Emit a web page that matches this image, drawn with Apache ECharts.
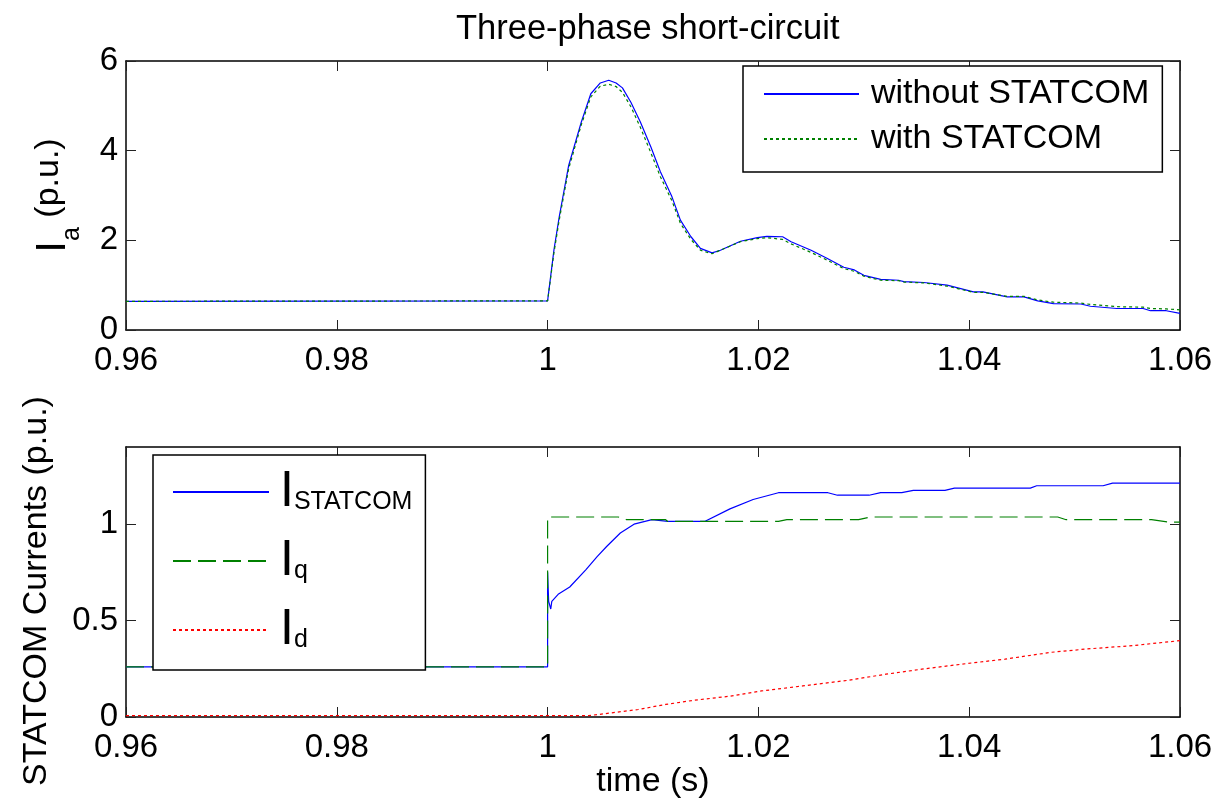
<!DOCTYPE html>
<html>
<head>
<meta charset="utf-8">
<script src="https://cdn.jsdelivr.net/npm/echarts@6/dist/echarts.min.js"></script>
<style>
  html, body { margin: 0; padding: 0; background: #fff; }
  #chart { width: 1218px; height: 809px; }
</style>
</head>
<body>
<div id="chart"></div>
<script>
// top plot: phase current
const timeIa = [0.96, 1.0, 1.0006, 1.0011, 1.0020, 1.0032, 1.0041, 1.0050, 1.0058, 1.0065, 1.0071, 1.0079, 1.0088, 1.0098, 1.0107, 1.0118, 1.0126, 1.0136, 1.0145, 1.0156, 1.0164, 1.0183, 1.0199, 1.0208, 1.0223, 1.0231, 1.0250, 1.0265, 1.0281, 1.0291, 1.0300, 1.0316, 1.0333, 1.0338, 1.0357, 1.0379, 1.0404, 1.0413, 1.0436, 1.0452, 1.0465, 1.0480, 1.0506, 1.0515, 1.0540, 1.0565, 1.0572, 1.0587, 1.0600];
const iaWithout = [0.64, 0.65, 1.78, 2.52, 3.67, 4.64, 5.27, 5.51, 5.57, 5.51, 5.40, 5.08, 4.64, 4.08, 3.53, 2.97, 2.45, 2.08, 1.82, 1.72, 1.78, 1.98, 2.06, 2.09, 2.08, 1.97, 1.78, 1.60, 1.40, 1.34, 1.22, 1.13, 1.11, 1.08, 1.06, 1.00, 0.85, 0.85, 0.74, 0.74, 0.65, 0.59, 0.58, 0.53, 0.48, 0.48, 0.43, 0.43, 0.37];
const iaWith = [0.64, 0.65, 1.72, 2.45, 3.60, 4.58, 5.20, 5.44, 5.48, 5.43, 5.30, 4.98, 4.52, 3.95, 3.42, 2.88, 2.38, 2.02, 1.78, 1.70, 1.78, 1.97, 2.04, 2.06, 2.02, 1.92, 1.73, 1.56, 1.37, 1.31, 1.20, 1.11, 1.10, 1.07, 1.05, 0.98, 0.84, 0.84, 0.75, 0.75, 0.67, 0.62, 0.60, 0.57, 0.52, 0.51, 0.48, 0.47, 0.45];

// bottom plot: STATCOM currents
const timeStat = [0.96, 1.0, 1.0, 1.0001, 1.0003, 1.0004, 1.0010, 1.0021, 1.0036, 1.0047, 1.0056, 1.0069, 1.0082, 1.0099, 1.0114, 1.0149, 1.0173, 1.0195, 1.0219, 1.0266, 1.0275, 1.0305, 1.0316, 1.0336, 1.0347, 1.0377, 1.0386, 1.0458, 1.0464, 1.0527, 1.0536, 1.0600];
const iStatcom = [0.26, 0.26, 0.75, 0.60, 0.56, 0.60, 0.636, 0.674, 0.762, 0.832, 0.884, 0.954, 1.00, 1.023, 1.014, 1.014, 1.079, 1.128, 1.163, 1.163, 1.15, 1.15, 1.163, 1.163, 1.175, 1.175, 1.187, 1.187, 1.199, 1.199, 1.213, 1.213];
const timeQ = [0.96, 1.0, 1.0, 1.0067, 1.0075, 1.0112, 1.0114, 1.0219, 1.0227, 1.0295, 1.0306, 1.0484, 1.0492, 1.0573, 1.0590, 1.0600];
const iQ = [0.26, 0.26, 1.037, 1.037, 1.023, 1.023, 1.014, 1.014, 1.023, 1.023, 1.037, 1.037, 1.023, 1.023, 1.01, 1.01];
const timeD = [0.96, 1.0039, 1.0060, 1.0086, 1.0112, 1.0138, 1.0173, 1.0203, 1.0242, 1.0286, 1.0321, 1.0355, 1.0399, 1.0434, 1.0477, 1.0512, 1.0555, 1.0600];
const iD = [0.007, 0.007, 0.021, 0.039, 0.065, 0.086, 0.108, 0.135, 0.161, 0.191, 0.222, 0.248, 0.278, 0.300, 0.335, 0.353, 0.370, 0.396];

const yTicksTop = [0, 2, 4, 6];
const yTicksBottom = [0, 0.5, 1];

const FONT = "'Liberation Sans', Arial, sans-serif";

function zip(t, v) {
  return t.map((x, i) => [x, v[i]]);
}

let chart = echarts.init(document.querySelector("#chart"), null, { renderer: 'canvas' });

let tick = { show: true, inside: true, length: 10, lineStyle: { color: '#222', width: 1 } };
let line = { show: true, onZero: false, lineStyle: { color: '#000', width: 1.5 } };
let label = { color: '#000', fontSize: 33, fontFamily: FONT };

function xAx(grid, pos, withLabel, extra) {
  return Object.assign({
    type: 'value', gridIndex: grid, position: pos,
    min: 0.96, max: 1.06, interval: 0.02,
    axisLine: line, axisTick: tick, splitLine: { show: false },
    axisLabel: Object.assign({ show: withLabel, margin: 14, formatter: v => String(+v.toFixed(2)) }, label)
  }, extra || {});
}

function yAx(grid, pos, withLabel, max, ticks, extra) {
  return Object.assign({
    type: 'value', gridIndex: grid, position: pos,
    min: 0, max: max,
    axisLine: line,
    axisTick: Object.assign({ customValues: ticks }, tick),
    splitLine: { show: false },
    axisLabel: Object.assign({ show: withLabel, margin: 8, customValues: ticks }, label)
  }, extra || {});
}

let option = {
  animation: false,
  backgroundColor: '#fff',
  title: {
    text: 'Three-phase short-circuit',
    left: 456, top: 12, padding: 0,
    textStyle: { fontSize: 34.5, fontWeight: 'normal', color: '#000', fontFamily: FONT }
  },
  grid: [
    { left: 126, top: 61, width: 1054, height: 269 },
    { left: 126, top: 447, width: 1054, height: 270 }
  ],
  xAxis: [
    xAx(0, 'bottom', true),
    xAx(0, 'top', false),
    xAx(1, 'bottom', true, {
      name: 'time (s)', nameLocation: 'middle', nameGap: 44,
      nameTextStyle: { fontSize: 34, color: '#000', fontFamily: FONT }
    }),
    xAx(1, 'top', false)
  ],
  yAxis: [
    yAx(0, 'left', true, 6, yTicksTop, {
      name: '{m|I}{s|a}{p| (p.u.)}', nameLocation: 'middle', nameRotate: 90, nameGap: 50,
      nameTextStyle: {
        color: '#000', fontFamily: FONT,
        rich: {
          m: { fontSize: 42, lineHeight: 44, verticalAlign: 'top', fontFamily: FONT, color: '#000' },
          s: { fontSize: 25, lineHeight: 25, verticalAlign: 'top', padding: [28, 0, 0, 0], fontFamily: FONT, color: '#000' },
          p: { fontSize: 34, lineHeight: 44, verticalAlign: 'top', fontFamily: FONT, color: '#000' }
        }
      }
    }),
    yAx(0, 'right', false, 6, yTicksTop),
    yAx(1, 'left', true, 1.4, yTicksBottom, {
      name: 'STATCOM Currents (p.u.)', nameLocation: 'middle', nameRotate: 90, nameGap: 72,
      nameTextStyle: { fontSize: 34, color: '#000', fontFamily: FONT, padding: [0, 18, 0, 0] }
    }),
    yAx(1, 'right', false, 1.4, yTicksBottom)
  ],
  legend: [
    {
      orient: 'vertical', left: 743, top: 66,
      data: ['without STATCOM', 'with STATCOM'],
      itemWidth: 95, itemHeight: 14, itemGap: 11,
      padding: [11, 13, 16, 20],
      itemStyle: { opacity: 0 },
      borderColor: '#000', borderWidth: 1.5, backgroundColor: '#fff',
      formatter: n => '{t|' + n + '}',
      textStyle: {
        rich: { t: { fontSize: 34, lineHeight: 34, padding: [0, 0, 0, 7], color: '#000', fontFamily: FONT } }
      }
    },
    {
      orient: 'vertical', left: 153, top: 455,
      data: ['I_STATCOM', 'I_q', 'I_d'],
      itemWidth: 96, itemHeight: 14, itemGap: 19,
      padding: [12, 13, 15, 19],
      itemStyle: { opacity: 0 },
      borderColor: '#000', borderWidth: 1.5, backgroundColor: '#fff',
      formatter: n => '{m|I}{s|' + n.split('_')[1] + '}',
      textStyle: {
        rich: {
          m: { fontSize: 50, lineHeight: 46, padding: [0, 0, 0, 6], color: '#000', fontFamily: FONT },
          s: { fontSize: 25, lineHeight: 25, verticalAlign: 'bottom', color: '#000', fontFamily: FONT }
        }
      }
    }
  ],
  series: [
    {
      name: 'without STATCOM', type: 'line', xAxisIndex: 0, yAxisIndex: 0,
      symbol: 'none', data: zip(timeIa, iaWithout),
      lineStyle: { color: '#0000ff', width: 1.2 }, itemStyle: { color: '#0000ff' }
    },
    {
      name: 'with STATCOM', type: 'line', xAxisIndex: 0, yAxisIndex: 0,
      symbol: 'none', data: zip(timeIa, iaWith),
      lineStyle: { color: '#008000', width: 1.2, type: [3, 3] }, itemStyle: { color: '#008000' }
    },
    {
      name: 'I_STATCOM', type: 'line', xAxisIndex: 2, yAxisIndex: 2,
      symbol: 'none', data: zip(timeStat, iStatcom),
      lineStyle: { color: '#0000ff', width: 1.2 }, itemStyle: { color: '#0000ff' }
    },
    {
      name: 'I_q', type: 'line', xAxisIndex: 2, yAxisIndex: 2,
      symbol: 'none', data: zip(timeQ, iQ),
      lineStyle: { color: '#008000', width: 1.2, type: [18, 7] }, itemStyle: { color: '#008000' }
    },
    {
      name: 'I_d', type: 'line', xAxisIndex: 2, yAxisIndex: 2,
      symbol: 'none', data: zip(timeD, iD),
      lineStyle: { color: '#ff0000', width: 1.2, type: [3, 3] }, itemStyle: { color: '#ff0000' }
    }
  ]
};

chart.setOption(option);
</script>
</body>
</html>
